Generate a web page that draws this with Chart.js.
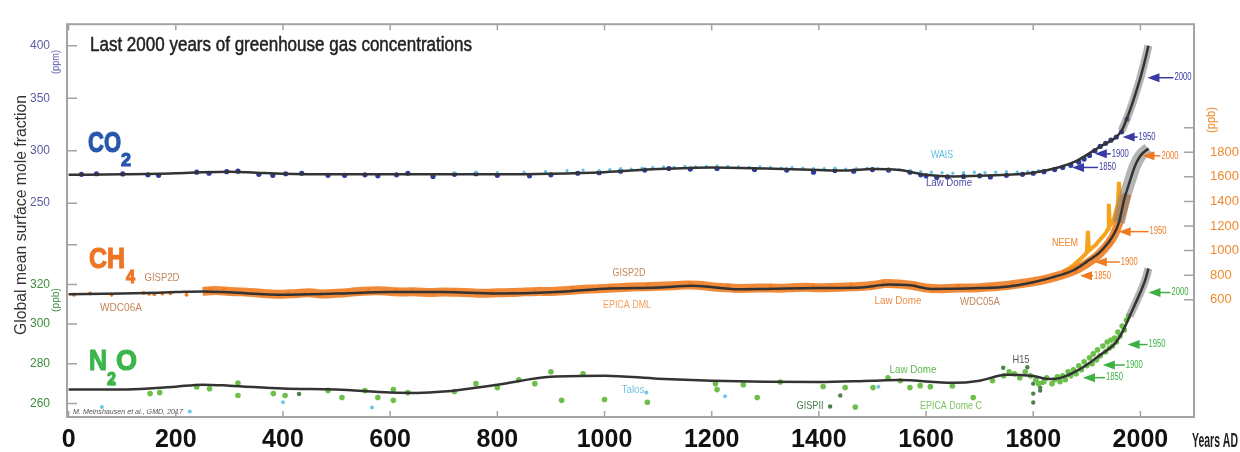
<!DOCTYPE html>
<html>
<head>
<meta charset="utf-8">
<script src="https://cdn.jsdelivr.net/npm/chart.js@4.4.1/dist/chart.umd.min.js"></script>
<style>
  html, body { margin: 0; padding: 0; background: #fff; }
  #wrap { width: 1240px; height: 452px; }
</style>
</head>
<body>
<div id="wrap"><canvas id="chart" width="1240" height="452"></canvas></div>
<script>
/* ===== Fonts ===== */
const NARROW = '"Liberation Sans Narrow", "Liberation Sans", sans-serif';

/* ===== Data: tick values ===== */
const yearTicks = [0, 200, 400, 600, 800, 1000, 1200, 1400, 1600, 1800, 2000];
const co2Ticks = [250, 300, 350, 400];
const n2oTicks = [260, 280, 300, 320, 340];
const ch4Ticks = [600, 800, 1000, 1200, 1400, 1600, 1800, 2000];

/* ===== Data: smooth global means ===== */
const co2Years = [0,100,200,250,300,350,400,500,600,700,800,900,1000,1100,1200,1300,1400,1450,1500,1550,1600,1650,1700,1750,1800,1850,1880,1900,1925,1950,1965,1975,1985,1995,2000,2005,2010,2015];
const co2Values = [277,277.5,278.5,279.5,280,279,278,277.5,277.5,277.5,277.5,278,279.5,282.5,284,283,281.5,281,282.5,281.5,277,275.5,276,277,279,284.5,290,296,304,311,319,331,345,361,369.5,379,389,400];

const ch4Years = [0,100,200,250,300,400,500,600,700,800,900,1000,1100,1165,1250,1300,1400,1480,1530,1570,1610,1700,1750,1800,1850,1875,1900,1925,1950,1960,1970,1980,1990,2000,2015];
const ch4Values = [645,650,662,668,660,640,650,663,662,650,660,690,700,714,685,688,695,700,725,718,688,695,705,742,800,840,910,990,1130,1230,1420,1560,1690,1772,1830];

const n2oYears = [0,100,150,200,250,300,400,500,600,650,700,800,900,1000,1100,1200,1300,1400,1500,1550,1650,1700,1750,1800,1830,1850,1875,1900,1925,1950,1960,1970,1980,1990,2000,2010,2015];
const n2oValues = [267,267,267.5,268.5,269.5,269,267.5,267,265.5,265.3,266,269.5,273.5,274,272.5,271.5,271,270.8,271.5,271.8,270.4,271.5,274.5,273.8,272.3,272.8,275.5,279.5,284.5,289.5,293,298,304,310,316,323,328];

/* ===== Data: ice core / firn measurements [year, value] ===== */
const co2LawDome = [[24,277.5],[52,278],[101,277.8],[148,277],[168,276.5],[239,279.5],[262,278.5],[295,280],[316,280.5],[355,277.5],[381,276.5],[405,278],[435,278.5],[484,276.5],[515,276.5],[553,277],[577,276],[612,277],[633,278.5],[680,275.5],[720,277.5],[760,278],[800,276.5],[860,276],[900,277],[950,278.5],[990,279],[1030,280.5],[1075,281.5],[1120,283],[1160,282.5],[1210,283],[1280,282],[1340,281.5],[1390,279.5],[1430,281],[1465,280.5],[1500,282],[1530,281.5],[1570,279.5],[1590,277],[1600,276],[1620,274.5],[1640,275],[1670,275.5],[1700,276],[1720,275],[1750,276.5],[1780,277.5],[1800,278.5],[1820,280],[1840,282],[1855,284],[1870,286],[1885,289],[1895,292],[1905,295.5],[1915,300],[1925,304],[1935,307],[1945,310],[1955,313],[1965,318],[1975,330]];
const co2Wais = [[720,279],[760,279.5],[800,279],[850,279.5],[890,280],[930,281],[960,281.5],[990,281],[1010,282],[1030,283],[1050,282.5],[1070,283.5],[1090,284],[1110,284.5],[1130,284],[1150,285],[1170,284.5],[1190,285],[1210,285.5],[1230,285],[1250,284.5],[1270,284],[1290,284.5],[1310,284],[1330,283.5],[1350,284],[1370,283.5],[1390,283],[1410,283],[1430,283.5],[1450,282.5],[1470,283],[1490,283.5],[1510,283],[1530,282.5],[1550,282],[1570,281],[1590,280],[1610,279.5],[1630,279],[1650,278.5],[1670,279],[1690,279.5],[1710,279],[1730,279.5],[1750,280],[1770,279.5],[1790,280],[1810,281]];

const ch4Band = [[250,668],[275,676],[300,668],[325,664],[350,656],[375,648],[400,644],[425,651],[450,656],[475,646],[500,652],[525,660],[550,670],[575,674],[600,668],[625,664],[650,664],[675,658],[700,664],[725,660],[750,656],[775,652],[800,656],[825,658],[850,664],[875,668],[900,668],[925,674],[950,682],[975,688],[1000,692],[1025,698],[1050,704],[1075,706],[1100,710],[1125,714],[1150,720],[1175,718],[1200,706],[1225,698],[1250,692],[1275,694],[1300,696],[1325,694],[1350,698],[1375,702],[1400,698],[1425,700],[1450,704],[1475,708],[1500,716],[1525,732],[1550,728],[1575,716],[1600,696],[1625,690],[1650,694],[1675,696],[1700,698],[1725,706],[1750,716],[1775,730],[1800,746],[1825,768],[1850,798],[1875,834],[1900,895],[1925,980],[1950,1120],[1965,1300],[1975,1460]];
const ch4Points = [[10,640],[40,650],[80,640],[140,655],[150,648],[160,645],[175,650],[190,652],[220,640],[265,690],[290,685],[330,642],[360,640],[395,632],[410,655],[440,648],[470,638],[520,670],[560,680],[590,660],[610,682],[640,675],[680,655],[720,672],[760,650],[790,668],[830,655],[870,680],[910,665],[940,698],[970,680],[1010,705],[1040,690],[1080,722],[1120,700],[1160,730],[1190,705],[1230,715],[1270,690],[1310,710],[1350,690],[1390,712],[1420,695],[1460,718],[1500,705],[1520,742],[1545,715],[1580,730],[1620,690],[1660,712],[1690,690],[1720,705],[1760,725],[1790,740],[1820,775],[1840,785],[1860,810],[1880,830],[1890,870],[1910,925],[1930,1000],[1945,1060]];
const ch4Neem = [[1855,830],[1865,850],[1875,880],[1885,920],[1895,960],[1900,985],[1902,1160],[1904,1000],[1915,1040],[1925,1090],[1935,1140],[1940,1180],[1941,1380],[1943,1200],[1950,1250],[1958,1380],[1960,1560],[1962,1400]];

const n2oPoints = [[82,270.3],[152,265],[170,265.5],[239,268.3],[263,267.4],[316,270.3],[316,264],[382,265],[404,264],[484,266.6],[510,263],[553,266.5],[577,263],[606,267],[606,261.6],[633,265.5],[720,266],[760,270],[800,268],[840,272],[870,270],[900,276],[920,261.6],[960,275],[1000,262],[1080,260.6],[1207,270],[1210,267],[1259,269.5],[1285,263],[1328,270.8],[1408,268.6],[1449,268],[1468,258.2],[1501,268],[1529,273],[1552,271.5],[1570,268],[1589,269],[1608,268.5],[1649,268.8],[1688,263],[1724,271.5],[1745,274],[1755,276],[1765,275],[1775,273],[1785,276],[1795,274],[1805,272],[1810,270],[1820,271],[1825,273],[1835,270],[1840,272],[1845,273.5],[1850,271],[1855,274],[1860,272],[1865,276],[1870,274],[1875,277],[1880,275],[1885,279],[1890,277],[1895,281],[1900,279],[1905,283],[1910,280],[1912,285],[1918,282],[1920,287],[1925,284],[1930,289],[1935,286],[1938,291],[1942,288],[1945,292],[1948,289],[1952,293],[1955,291],[1958,296],[1962,294],[1966,299],[1970,297],[1974,302],[1978,304]];
const n2oDark = [[430,264.8],[1421,258.5],[1440,264],[1744,278],[1789,278.3],[1800,265],[1800,260.5],[1800,270],[1813,268],[1813,266.5],[1817,270.5]];
const n2oTalos = [[62,258.2],[226,256],[400,260.6],[566,258],[1078,265.5],[1225,263.6],[1511,268.5]];

/* ===== Data: year markers ===== */
const arrowYears = [1850, 1900, 1950, 2000];
const co2ArrowValues = [284, 297, 313, 369.5];
const ch4ArrowValues = [795, 907, 1154, 1771];
const n2oArrowValues = [273, 279.4, 289.7, 315.9];

/* ===== Helpers ===== */
const toXY = (years, values) => years.map((x, i) => ({ x, y: values[i] }));
const fromPairs = arr => arr.map(([x, y]) => ({ x, y }));
const after = (years, values, start) => toXY(years, values).filter(p => p.x >= start);
const fixedTicks = list => s => { s.ticks = list.map(v => ({ value: v })); };

const lineStyle = { type: 'line', borderColor: '#333', borderWidth: 2.5, pointRadius: 0, cubicInterpolationMode: 'monotone', order: 0 };
const haloStyle = { type: 'line', borderColor: 'rgba(130,130,130,0.6)', pointRadius: 0, cubicInterpolationMode: 'monotone', order: 1 };
const dotStyle = { type: 'scatter', borderWidth: 0, pointHoverRadius: 0, order: 3 };

/* ===== Annotations (text drawn on top) ===== */
const sourceLabels = [
  { text: 'WAIS', x: 942, y: 155, w: 22, color: '#62c2e4' },
  { text: 'Law Dome', x: 949, y: 183, w: 46, color: '#4b4aa8' },
  { text: 'GISP2D', x: 162, y: 278, w: 35, color: '#c4885a' },
  { text: 'WDC06A', x: 121, y: 308, w: 42, color: '#c4845a' },
  { text: 'GISP2D', x: 629, y: 273, w: 33, color: '#c4885a' },
  { text: 'EPICA DML', x: 627, y: 305, w: 48, color: '#f3a060' },
  { text: 'Law Dome', x: 898, y: 301, w: 47, color: '#f08e48' },
  { text: 'WDC05A', x: 980, y: 302, w: 40, color: '#c4845a' },
  { text: 'NEEM', x: 1065, y: 243, w: 26, color: '#f08a30' },
  { text: 'Talos', x: 633, y: 390, w: 23, color: '#72c4e4' },
  { text: 'GISPII', x: 810, y: 406, w: 27, color: '#4a7c4a' },
  { text: 'Law Dome', x: 913, y: 370, w: 47, color: '#5cb84c' },
  { text: 'EPICA Dome C', x: 951, y: 406, w: 62, color: '#7cc460' },
  { text: 'H15', x: 1021, y: 360, w: 17, color: '#555' }
];

const gasLabels = [
  { color: '#2756ad', parts: [{ t: 'CO', x: 88, y: 152, size: 30, w: 33 }, { t: '2', x: 121, y: 166, size: 19, w: 10 }] },
  { color: '#ee7522', parts: [{ t: 'CH', x: 89, y: 268, size: 30, w: 36 }, { t: '4', x: 126, y: 283, size: 19, w: 9 }] },
  { color: '#3cb54a', parts: [{ t: 'N', x: 89, y: 370, size: 30, w: 18 }, { t: '2', x: 107, y: 385, size: 19, w: 9 }, { t: 'O', x: 116, y: 370, size: 30, w: 21 }] }
];

const arrowSets = [
  { axis: 'yCO2', values: co2ArrowValues, offsets: [12, 8, 9, 7], lengths: [26, 16, 15, 26], color: '#3a3aa6' },
  { axis: 'yCH4', values: ch4ArrowValues, offsets: [20, 8, 5, 2], lengths: [13, 25, 30, 18], color: '#f07a22' },
  { axis: 'yN2O', values: n2oArrowValues, offsets: [23, 16, 14, 8], lengths: [22, 22, 20, 22], color: '#3cb043' }
];

function drawArrow(ctx, tipX, y, len, color, label) {
  ctx.fillStyle = color;
  ctx.strokeStyle = color;
  ctx.beginPath();
  ctx.moveTo(tipX, y);
  ctx.lineTo(tipX + 12, y - 4.5);
  ctx.lineTo(tipX + 12, y + 4.5);
  ctx.closePath();
  ctx.fill();
  ctx.lineWidth = 1.5;
  ctx.beginPath();
  ctx.moveTo(tipX + 10, y);
  ctx.lineTo(tipX + len, y);
  ctx.stroke();
  ctx.font = '10px ' + NARROW;
  ctx.textAlign = 'left';
  ctx.textBaseline = 'middle';
  ctx.fillText(label, tipX + len + 1, y, 17);
}

function rotated(ctx, text, x, y, font, color, w) {
  ctx.save();
  ctx.translate(x, y);
  ctx.rotate(-Math.PI / 2);
  ctx.font = font;
  ctx.fillStyle = color;
  ctx.textAlign = 'center';
  ctx.textBaseline = 'middle';
  ctx.fillText(text, 0, 0, w);
  ctx.restore();
}

/* ===== Frame + inward ticks ===== */
const framePlugin = {
  id: 'frame',
  afterDraw(chart) {
    const { ctx, chartArea: a, scales } = chart;
    ctx.save();
    ctx.strokeStyle = '#a3a3a3';
    ctx.lineWidth = 2;
    ctx.strokeRect(a.left, a.top, a.right - a.left, a.bottom - a.top);
    ctx.lineWidth = 1.5;
    ctx.beginPath();
    scales.x.ticks.forEach(t => {
      const px = scales.x.getPixelForValue(t.value);
      ctx.moveTo(px, a.bottom); ctx.lineTo(px, a.bottom - 6);
      ctx.moveTo(px, a.top); ctx.lineTo(px, a.top + 6);
    });
    ['yCO2', 'yN2O'].forEach(id => scales[id].ticks.forEach(t => {
      const py = scales[id].getPixelForValue(t.value);
      ctx.moveTo(a.left, py); ctx.lineTo(a.left + 10, py);
    }));
    scales.yCH4.ticks.forEach(t => {
      const py = scales.yCH4.getPixelForValue(t.value);
      ctx.moveTo(a.right, py); ctx.lineTo(a.right - 10, py);
    });
    ctx.stroke();
    ctx.restore();
  }
};

/* ===== Texts, gas names, arrows ===== */
const textPlugin = {
  id: 'texts',
  afterDatasetsDraw(chart) {
    const { ctx, scales } = chart;
    ctx.save();

    // title, slightly emboldened
    ctx.font = '20px ' + NARROW;
    ctx.fillStyle = '#222';
    ctx.strokeStyle = '#222';
    ctx.lineWidth = 0.5;
    ctx.textAlign = 'left';
    ctx.textBaseline = 'alphabetic';
    ctx.fillText('Last 2000 years of greenhouse gas concentrations', 90, 51, 382);
    ctx.strokeText('Last 2000 years of greenhouse gas concentrations', 90, 51, 382);

    gasLabels.forEach(g => {
      ctx.fillStyle = g.color;
      ctx.strokeStyle = g.color;
      ctx.lineWidth = 1.2;
      g.parts.forEach(p => {
        ctx.font = 'bold ' + p.size + 'px ' + NARROW;
        ctx.fillText(p.t, p.x, p.y, p.w);
        ctx.strokeText(p.t, p.x, p.y, p.w);
      });
    });

    ctx.font = '11px ' + NARROW;
    ctx.textAlign = 'center';
    ctx.textBaseline = 'middle';
    sourceLabels.forEach(l => {
      ctx.fillStyle = l.color;
      ctx.fillText(l.text, l.x, l.y, l.w);
    });

    ctx.font = 'italic 8px ' + NARROW;
    ctx.fillStyle = '#555';
    ctx.textAlign = 'left';
    ctx.fillText('M. Meinshausen et al., GMD, 2017', 73, 412, 110);

    arrowSets.forEach(s => {
      s.values.forEach((v, i) => {
        const y = scales[s.axis].getPixelForValue(v);
        const tipX = scales.x.getPixelForValue(arrowYears[i]) + s.offsets[i];
        drawArrow(ctx, tipX, y, s.lengths[i], s.color, String(arrowYears[i]));
      });
    });

    rotated(ctx, 'Global mean surface mole fraction', 22, 215, '16px ' + NARROW, '#333', 240);
    rotated(ctx, '(ppm)', 56, 62, '11px ' + NARROW, '#5b5ba5', 24);
    rotated(ctx, '(ppb)', 56, 300, '11px ' + NARROW, '#3d8b3d', 24);
    rotated(ctx, '(ppb)', 1212, 120, '12px ' + NARROW, '#ef8a2e', 26);

    ctx.font = 'bold 20px ' + NARROW;
    ctx.fillStyle = '#222';
    ctx.textAlign = 'left';
    ctx.textBaseline = 'middle';
    ctx.fillText('Years AD', 1192, 441, 46);

    ctx.restore();
  }
};

/* ===== Chart ===== */
const noGrid = { display: false, drawTicks: false };

new Chart(document.getElementById('chart'), {
  data: {
    datasets: [
      { ...lineStyle, yAxisID: 'yCO2', data: toXY(co2Years, co2Values) },
      { ...lineStyle, yAxisID: 'yCH4', data: toXY(ch4Years, ch4Values) },
      { ...lineStyle, yAxisID: 'yN2O', data: toXY(n2oYears, n2oValues) },
      { ...haloStyle, yAxisID: 'yCO2', borderWidth: 8, data: after(co2Years, co2Values, 1965) },
      { ...haloStyle, yAxisID: 'yCH4', borderWidth: 12, data: after(ch4Years, ch4Values, 1960) },
      { ...haloStyle, yAxisID: 'yN2O', borderWidth: 8, data: after(n2oYears, n2oValues, 1975) },
      { type: 'line', yAxisID: 'yCH4', data: fromPairs(ch4Band), borderColor: 'rgba(239,125,34,0.9)', borderWidth: 9, pointRadius: 0, tension: 0.3, order: 2 },
      { type: 'line', yAxisID: 'yCH4', data: fromPairs(ch4Neem), borderColor: '#f5a31c', borderWidth: 4, pointRadius: 0, tension: 0, order: 2 },
      { ...dotStyle, yAxisID: 'yCO2', data: fromPairs(co2Wais), backgroundColor: '#5ec3e6', pointRadius: 1.6 },
      { ...dotStyle, yAxisID: 'yCO2', data: fromPairs(co2LawDome), backgroundColor: '#2f3c9c', pointRadius: 2.6 },
      { ...dotStyle, yAxisID: 'yCH4', data: fromPairs(ch4Points), backgroundColor: '#ef7d22', pointRadius: 2 },
      { ...dotStyle, yAxisID: 'yN2O', data: fromPairs(n2oPoints), backgroundColor: '#6cc04a', pointRadius: 2.8 },
      { ...dotStyle, yAxisID: 'yN2O', data: fromPairs(n2oDark), backgroundColor: '#4a844a', pointRadius: 2.2 },
      { ...dotStyle, yAxisID: 'yN2O', data: fromPairs(n2oTalos), backgroundColor: '#72c7e8', pointRadius: 2 }
    ]
  },
  options: {
    responsive: false,
    animation: false,
    devicePixelRatio: 1,
    layout: { padding: { top: 16, left: 0, right: 0, bottom: 0 } },
    plugins: { legend: { display: false }, tooltip: { enabled: false } },
    scales: {
      x: {
        type: 'linear', position: 'bottom', min: -3, max: 2100,
        grid: noGrid, border: { display: false },
        ticks: { padding: 8, color: '#111', font: { family: NARROW, size: 25, weight: 'bold' }, callback: v => String(v) },
        afterBuildTicks: fixedTicks(yearTicks),
        afterFit: s => { s.height = 35; }
      },
      yCO2: {
        type: 'linear', position: 'left', stack: 'left', stackWeight: 201, weight: 2,
        min: 232.9, max: 420.5,
        grid: noGrid, border: { display: false },
        ticks: { padding: 17, color: '#5b5ba5', font: { family: NARROW, size: 12 }, callback: v => String(v) },
        afterBuildTicks: fixedTicks(co2Ticks),
        afterFit: s => { s.width = 67; }
      },
      yN2O: {
        type: 'linear', position: 'left', stack: 'left', stackWeight: 200, weight: 1,
        min: 253.2, max: 351.9,
        grid: noGrid, border: { display: false },
        ticks: { padding: 17, color: '#3d8b3d', font: { family: NARROW, size: 12 }, callback: v => (v === 340 ? '' : String(v)) },
        afterBuildTicks: fixedTicks(n2oTicks),
        afterFit: s => { s.width = 67; }
      },
      yCH4: {
        type: 'linear', position: 'right',
        min: -353.9, max: 2841.6,
        grid: noGrid, border: { display: false },
        ticks: { padding: 16, color: '#ef8a2e', font: { family: NARROW, size: 13 }, callback: v => (v === 2000 ? '' : String(v)) },
        afterBuildTicks: fixedTicks(ch4Ticks),
        afterFit: s => { s.width = 46; }
      }
    }
  },
  plugins: [framePlugin, textPlugin]
});
</script>
</body>
</html>
